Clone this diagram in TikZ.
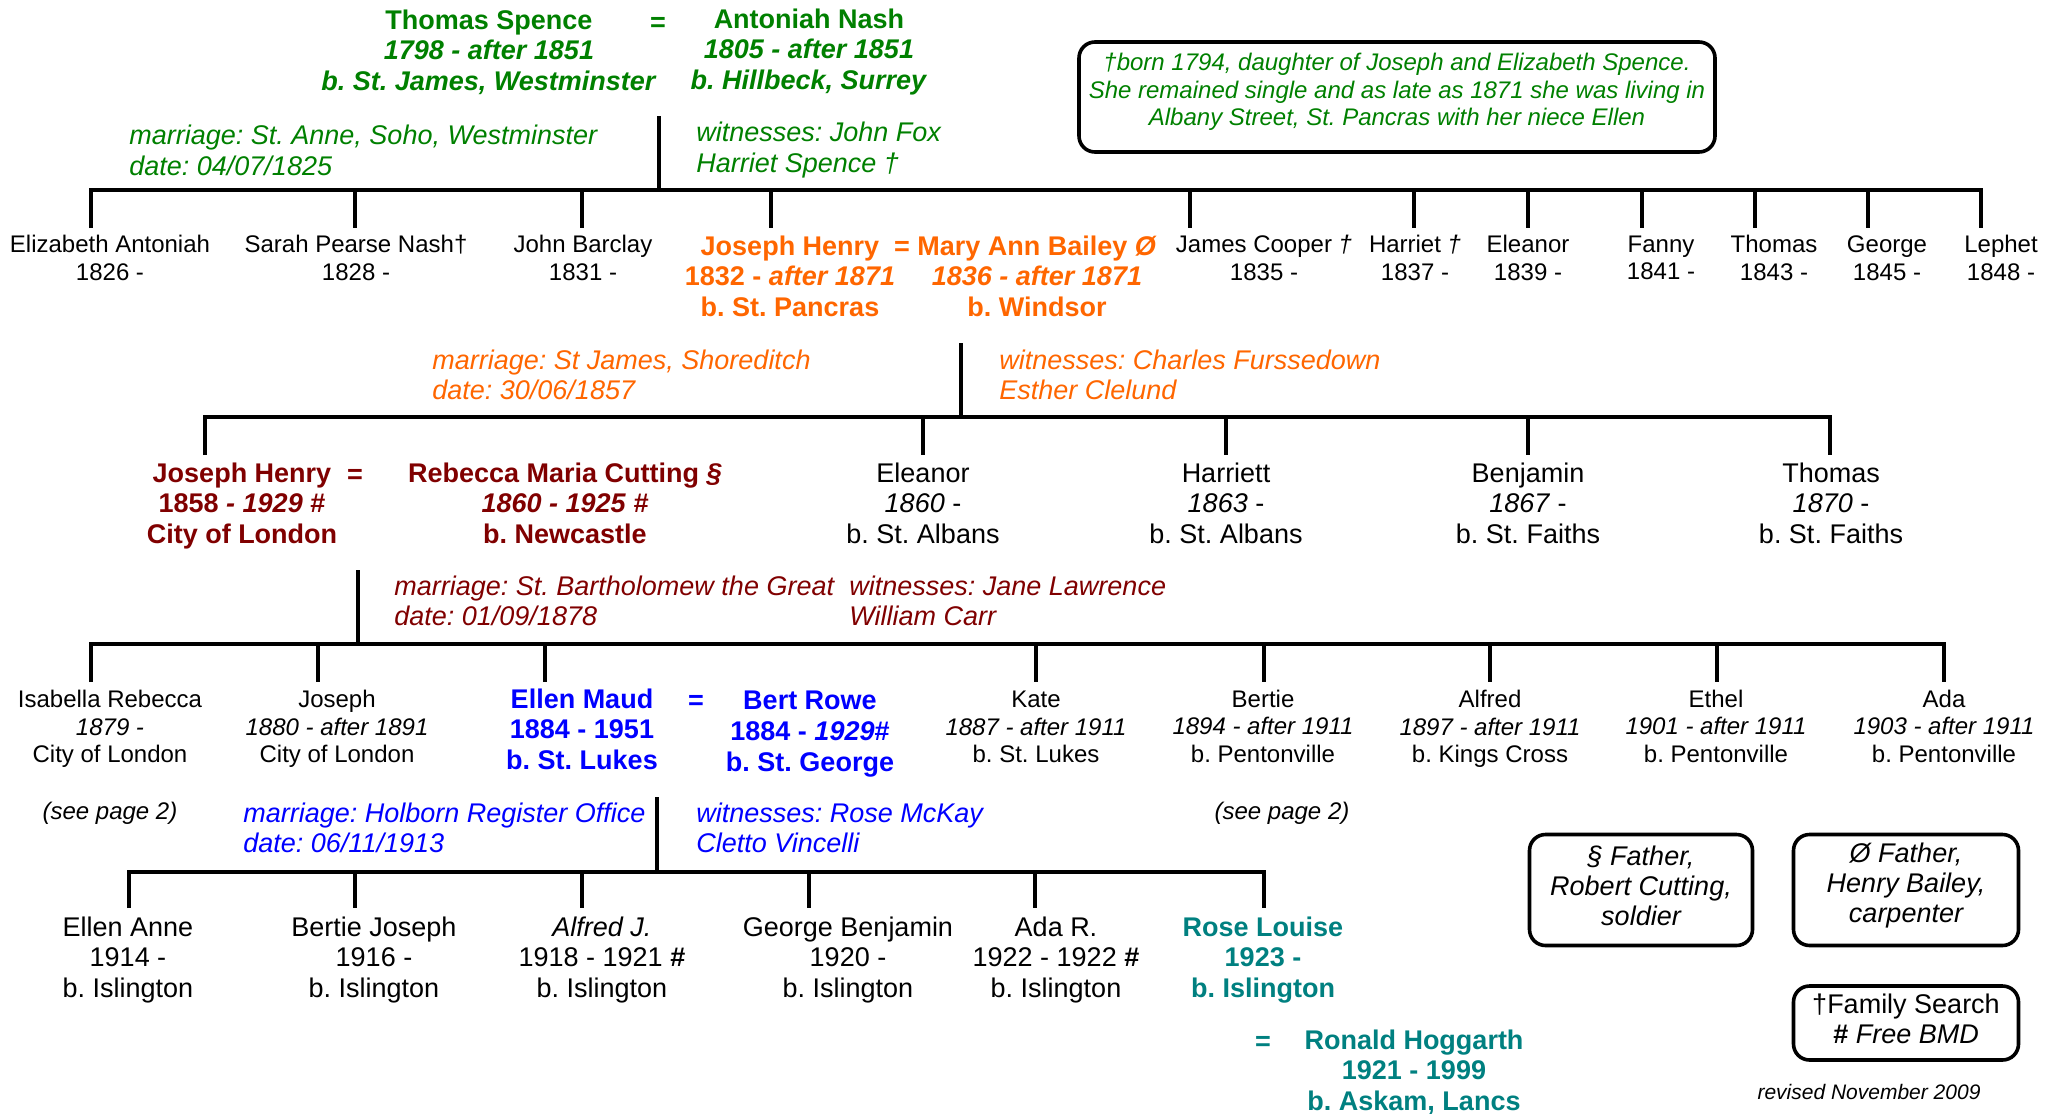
\documentclass[tikz,border=0pt]{standalone}
\usepackage{fontspec}
\setmainfont{Liberation Sans}
\frenchspacing
\definecolor{cgreen}{RGB}{0,128,0}
\definecolor{corange}{RGB}{255,102,0}
\definecolor{cred}{RGB}{128,0,0}
\definecolor{cblue}{RGB}{0,0,255}
\definecolor{cteal}{RGB}{0,128,128}
\begin{document}
\begin{tikzpicture}[x=0.5pt,y=-0.5pt,
  tree/.style={line width=2pt},
  smallname/.style={inner sep=0pt, align=center, font=\fontsize{12}{13.75}\selectfont},
  bigname/.style={inner sep=0pt, align=center, font=\fontsize{13.5}{15.3}\selectfont},
  boldname/.style={inner sep=0pt, align=center, font=\fontsize{13.5}{15.3}\selectfont\bfseries},
  mtext/.style={inner sep=0pt, align=left, anchor=west, font=\fontsize{13.5}{14.75}\selectfont\itshape},
  notebox/.style={draw=black, line width=1.8pt, rounded corners=8pt, inner sep=0pt},
  notetext/.style={inner sep=0pt, align=center},
]
\useasboundingbox (0,0) rectangle (2062,1114);

% ---------------- generation 0 ----------------
\node[boldname, cgreen] (thomas) at (489,52) {Thomas Spence\\\textit{1798 - after 1851}\\\textit{b. St. James, Westminster}};
\node[boldname, cgreen] (eq0) at (658,24) {=};
\node[boldname, cgreen] (antoniah) at (809,52) {Antoniah Nash\\\textit{1805 - after 1851}\\\textit{b. Hillbeck, Surrey}};
\node[mtext, cgreen, font=\fontsize{13.5}{15.5}\selectfont\itshape] (mar0) at (129,150) {marriage: St. Anne, Soho, Westminster\\date: 04/07/1825};
\node[mtext, cgreen, font=\fontsize{13.5}{15.5}\selectfont\itshape] (wit0) at (696,150) {witnesses: John Fox\\Harriet Spence †};
\node[notebox, minimum width=318pt, minimum height=55pt] (notebx) at (1397,97) {};
\node[notetext, cgreen, font=\fontsize{12}{13.75}\selectfont\itshape] (note) at (1397,92)
  {†born 1794, daughter of Joseph and Elizabeth Spence.\\She remained single and as late as 1871 she was living in\\Albany Street, St. Pancras with her niece Ellen};

\coordinate (m0a) at (659,116);
\coordinate (m0b) at (659,190);
\draw[tree] (m0a) -- (m0b);
\coordinate (d0L) at (91,228);
\coordinate (d0R) at (1981,228);
\draw[tree] (d0L) |- (m0b) -| (d0R);
\foreach \x [count=\i] in {355,582,771,1190,1414,1528,1642,1755,1868}{
  \coordinate (d0\i) at (\x,228);
  \draw[tree] (d0\i |- m0b) -- (d0\i);
}

% ---------------- generation 1 ----------------
\node[smallname] (elizabeth) at (110,258) {Elizabeth Antoniah\\1826 -};
\node[smallname] (sarah) at (356,258) {Sarah Pearse Nash†\\1828 -};
\node[smallname] (john) at (583,258) {John Barclay\\1831 -};
\node[boldname, corange] (jh1) at (790,276) {Joseph Henry\\1832 - \textit{after 1871}\\b. St. Pancras};
\node[boldname, corange] (eq1) at (902,248) {=};
\node[boldname, corange] (mab) at (1037,276) {Mary Ann Bailey \textit{Ø}\\\textit{1836 - after 1871}\\b. Windsor};
\node[smallname] (james) at (1264,258) {James Cooper \textit{†}\\1835 -};
\node[smallname] (harriet) at (1415,258) {Harriet \textit{†}\\1837 -};
\node[smallname] (eleanor) at (1528,258) {Eleanor\\1839 -};
\node[smallname] (fanny) at (1661,258) {Fanny\\1841 -};
\node[smallname] (thomas1) at (1774,258) {Thomas\\1843 -};
\node[smallname] (george) at (1887,258) {George\\1845 -};
\node[smallname] (lephet) at (2001,258) {Lephet\\1848 -};

\node[mtext, corange] (mar1) at (432,375) {marriage: St James, Shoreditch\\date: 30/06/1857};
\node[mtext, corange] (wit1) at (999,375) {witnesses: Charles Furssedown\\Esther Clelund};
\coordinate (m1a) at (961,343);
\coordinate (m1b) at (961,417);
\draw[tree] (m1a) -- (m1b);
\coordinate (d1L) at (205,455);
\coordinate (d1R) at (1830,455);
\draw[tree] (d1L) |- (m1b) -| (d1R);
\foreach \x [count=\i] in {923,1226,1528}{
  \coordinate (d1\i) at (\x,455);
  \draw[tree] (d1\i |- m1b) -- (d1\i);
}

% ---------------- generation 2 ----------------
\node[boldname, cred] (jh2) at (242,506) {Joseph Henry\\1858 \textit{- 1929} \#\\City of London};
\node[boldname, cred] (eq2) at (355,476) {=};
\node[boldname, cred] (rebecca) at (565,503) {Rebecca Maria Cutting \textit{§}\\\textit{1860 - 1925 \#}\\b. Newcastle};
\node[bigname] (eleanor2) at (923,503) {Eleanor\\\textit{1860} -\\b. St. Albans};
\node[bigname] (harriett) at (1226,503) {Harriett\\\textit{1863} -\\b. St. Albans};
\node[bigname] (benjamin) at (1528,503) {Benjamin\\\textit{1867} -\\b. St. Faiths};
\node[bigname] (thomas2) at (1831,503) {Thomas\\\textit{1870} -\\b. St. Faiths};

\node[mtext, cred] (mar2) at (394,601) {marriage: St. Bartholomew the Great\\date: 01/09/1878};
\node[mtext, cred] (wit2) at (849,601) {witnesses: Jane Lawrence\\William Carr};
\coordinate (m2a) at (358,570);
\coordinate (m2b) at (358,644);
\draw[tree] (m2a) -- (m2b);
\coordinate (d2L) at (91,682);
\coordinate (d2R) at (1944,682);
\draw[tree] (d2L) |- (m2b) -| (d2R);
\foreach \x [count=\i] in {318,545,1036,1264,1490,1717}{
  \coordinate (d2\i) at (\x,682);
  \draw[tree] (d2\i |- m2b) -- (d2\i);
}

% ---------------- generation 3 ----------------
\node[smallname] (isabella) at (110,729) {Isabella Rebecca\\\textit{1879 -}\\City of London};
\node[smallname] (joseph3) at (337,729) {Joseph\\\textit{1880 - after 1891}\\City of London};
\node[boldname, cblue] (ellen) at (582,729) {Ellen Maud\\1884 - 1951\\b. St. Lukes};
\node[boldname, cblue] (eq3) at (696,702) {=};
\node[boldname, cblue] (bert) at (810,734) {Bert Rowe\\1884 - \textit{1929}\#\\b. St. George};
\node[smallname] (kate) at (1036,727) {Kate\\\textit{1887 - after 1911}\\b. St. Lukes};
\node[smallname] (bertie) at (1263,726) {Bertie\\\textit{1894 - after 1911}\\b. Pentonville};
\node[smallname] (alfred) at (1490,729) {Alfred\\\textit{1897 - after 1911}\\b. Kings Cross};
\node[smallname] (ethel) at (1716,726) {Ethel\\\textit{1901 - after 1911}\\b. Pentonville};
\node[smallname] (ada) at (1944,726) {Ada\\\textit{1903 - after 1911}\\b. Pentonville};
\node[smallname, font=\fontsize{12}{13.75}\selectfont\itshape] (see1) at (110,813) {(see page 2)};
\node[smallname, font=\fontsize{12}{13.75}\selectfont\itshape] (see2) at (1282,813) {(see page 2)};

\node[mtext, cblue] (mar3) at (243,828) {marriage: Holborn Register Office\\date: 06/11/1913};
\node[mtext, cblue] (wit3) at (696,828) {witnesses: Rose McKay\\Cletto Vincelli};
\coordinate (m3a) at (657,797);
\coordinate (m3b) at (657,872);
\draw[tree] (m3a) -- (m3b);
\coordinate (d3L) at (129,908);
\coordinate (d3R) at (1264,908);
\draw[tree] (d3L) |- (m3b) -| (d3R);
\foreach \x [count=\i] in {355,582,809,1035}{
  \coordinate (d3\i) at (\x,908);
  \draw[tree] (d3\i |- m3b) -- (d3\i);
}

% ---------------- generation 4 ----------------
\node[bigname] (ellenanne) at (128,960) {Ellen Anne\\1914 -\\b. Islington};
\node[bigname] (bertiej) at (374,960) {Bertie Joseph\\1916 -\\b. Islington};
\node[bigname] (alfredj) at (602,960) {\textit{Alfred J.}\\1918 - 1921 \textbf{\#}\\b. Islington};
\node[bigname] (georgeb) at (848,960) {George Benjamin\\1920 -\\b. Islington};
\node[bigname] (adar) at (1056,960) {Ada R.\\1922 - 1922 \textbf{\#}\\b. Islington};
\node[boldname, cteal] (rose) at (1263,960) {Rose Louise\\1923 -\\b. Islington};
\node[boldname, cteal] (eq4) at (1263,1043) {=};
\node[boldname, cteal] (ronald) at (1414,1072) {Ronald Hoggarth\\1921 - 1999\\b. Askam, Lancs};

% ---------------- legend boxes ----------------
\node[notebox, minimum width=111.5pt, minimum height=55.5pt] (fcutbx) at (1641,890) {};
\node[notetext, font=\fontsize{13.5}{15}\selectfont\itshape] (fcut) at (1641,886)
  {§ Father,\\Robert Cutting,\\soldier};
\node[notebox, minimum width=112.5pt, minimum height=55.5pt] (fbaibx) at (1906,890) {};
\node[notetext, font=\fontsize{13.5}{15}\selectfont\itshape] (fbai) at (1906,886)
  {Ø Father,\\Henry Bailey,\\carpenter};
\node[notebox, minimum width=112.5pt, minimum height=37pt] (srcbx) at (1906,1023) {};
\node[notetext, font=\fontsize{13.5}{15}\selectfont] (src) at (1906,1019)
  {†Family Search\\\textbf{\#} \textit{Free BMD}};
\node[inner sep=0pt, font=\fontsize{10.5}{12}\selectfont\itshape] (rev) at (1869,1092) {revised November 2009};
\end{tikzpicture}
\end{document}
